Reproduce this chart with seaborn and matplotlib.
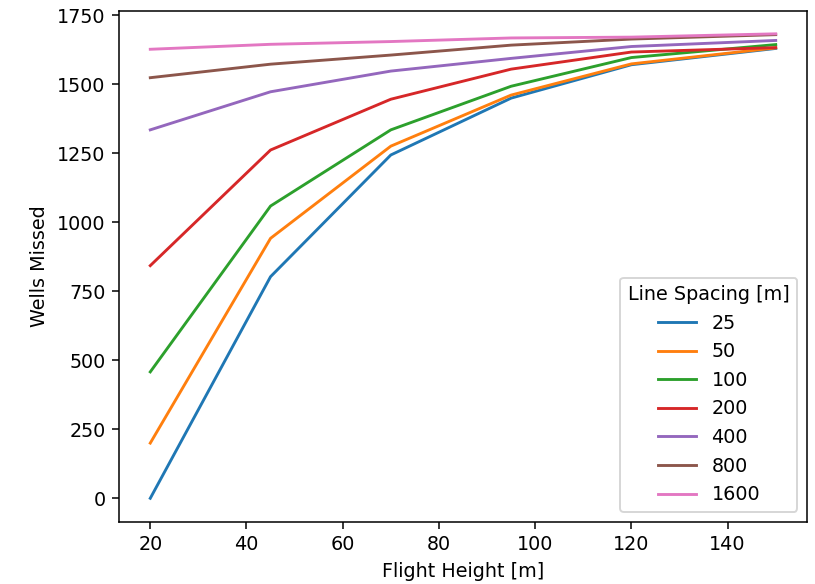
import matplotlib
matplotlib.use("Agg")
import matplotlib.pyplot as plt
import pandas as pd
import seaborn as sns

flight_heights = [20, 45, 70, 95, 120, 150]
line_spacings = ["25", "50", "100", "200", "400", "800", "1600"]

missed_25 = [0, 803, 1244, 1450, 1571, 1630]
missed_50 = [200, 942, 1276, 1461, 1574, 1632]
missed_100 = [458, 1059, 1335, 1493, 1597, 1644]
missed_200 = [843, 1262, 1446, 1555, 1617, 1633]
missed_400 = [1335, 1473, 1548, 1594, 1637, 1659]
missed_800 = [1524, 1573, 1606, 1642, 1664, 1680]
missed_1600 = [1627, 1645, 1655, 1668, 1671, 1683]

series = [missed_25, missed_50, missed_100, missed_200,
          missed_400, missed_800, missed_1600]

rows = []
for spacing, values in zip(line_spacings, series):
    for h, v in zip(flight_heights, values):
        rows.append({"Flight Height [m]": h, "Wells Missed": v,
                     "Line Spacing [m]": spacing})
df = pd.DataFrame(rows)

fig = plt.figure(figsize=(815 / 138, 584 / 138), dpi=138)
ax = fig.add_axes([119 / 815, 1 - 521.5 / 584, (807 - 119) / 815, (521.5 - 10.6) / 584])

sns.lineplot(data=df, x="Flight Height [m]", y="Wells Missed",
             hue="Line Spacing [m]", hue_order=line_spacings,
             palette="tab10", ax=ax)

ax.set_yticks([0, 250, 500, 750, 1000, 1250, 1500, 1750])
ax.legend(title="Line Spacing [m]", loc="lower right")

fig.savefig("out.png", dpi=138)
